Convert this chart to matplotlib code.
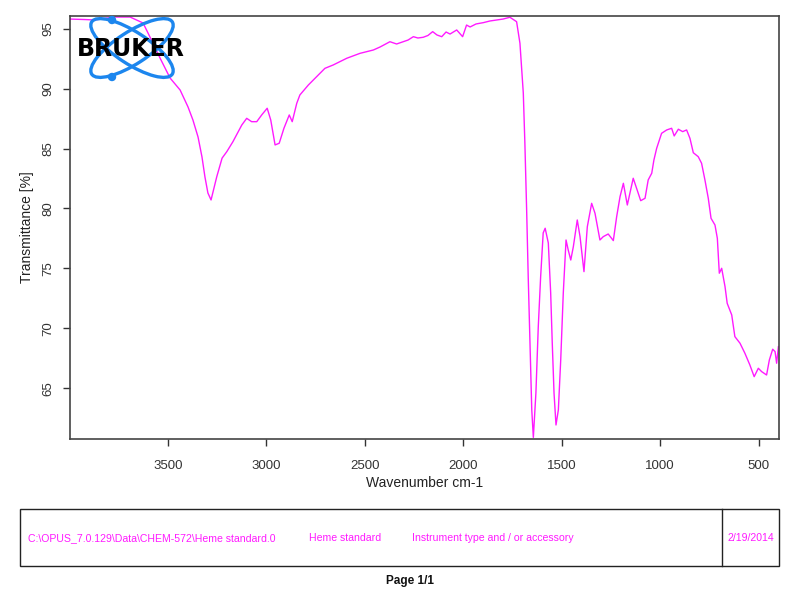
import numpy as np
import matplotlib
matplotlib.use("Agg")
from matplotlib import pyplot as plt
from matplotlib.patches import Ellipse, Circle, Rectangle

plt.rcParams['font.family'] = ['Liberation Sans', 'DejaVu Sans']

# spectrum (wavenumber cm-1, transmittance %)
wavenumber = [3996, 3920, 3869, 3844, 3768, 3691, 3625, 3590, 3539, 3488,
              3437, 3397, 3372, 3346, 3326, 3311, 3296, 3280, 3251, 3224,
              3200, 3169, 3124, 3099, 3074, 3048, 3023, 2995, 2977, 2955,
              2934, 2910, 2883, 2868, 2845, 2829, 2786, 2744, 2702, 2660,
              2591, 2524, 2456, 2422, 2372, 2338, 2304, 2280, 2253, 2230,
              2203, 2179, 2155, 2133, 2109, 2087, 2067, 2033, 2003, 1983,
              1965, 1935, 1898, 1864, 1830, 1798, 1763, 1729, 1712, 1695,
              1687, 1678, 1670, 1661, 1652, 1644, 1631, 1619, 1607, 1594,
              1584, 1568, 1556, 1548, 1539, 1529, 1517, 1505, 1492, 1478,
              1467, 1454, 1441, 1421, 1407, 1387, 1370, 1348, 1331, 1306,
              1289, 1264, 1238, 1221, 1204, 1187, 1167, 1137, 1120, 1099,
              1077, 1061, 1043, 1032, 1018, 993, 967, 942, 929, 908,
              886, 866, 849, 832, 807, 790, 773, 756, 742, 722,
              710, 700, 688, 671, 660, 637, 621, 595, 570, 545,
              523, 502, 485, 460, 446, 429, 417, 409, 400]
transmittance = [95.80, 95.76, 95.72, 95.80, 95.97, 95.97, 95.47, 94.30, 92.55, 90.88,
                 89.88, 88.47, 87.38, 85.96, 84.29, 82.63, 81.29, 80.71, 82.65, 84.20,
                 84.74, 85.57, 86.96, 87.52, 87.24, 87.24, 87.80, 88.36, 87.38, 85.30,
                 85.44, 86.69, 87.80, 87.24, 88.77, 89.47, 90.30, 90.99, 91.69, 91.97,
                 92.53, 92.94, 93.22, 93.47, 93.91, 93.72, 93.91, 94.05, 94.33, 94.22,
                 94.28, 94.43, 94.75, 94.47, 94.33, 94.72, 94.55, 94.89, 94.33, 95.30,
                 95.14, 95.39, 95.50, 95.64, 95.72, 95.80, 95.95, 95.58, 93.78, 89.63,
                 85.46, 79.87, 74.29, 68.78, 63.20, 60.90, 64.61, 70.12, 74.29, 77.96,
                 78.35, 77.12, 72.95, 68.78, 64.61, 61.94, 63.20, 67.37, 72.95, 77.37,
                 76.54, 75.70, 76.81, 79.04, 77.65, 74.73, 78.48, 80.43, 79.60, 77.37,
                 77.65, 77.87, 77.32, 79.32, 80.98, 82.10, 80.29, 82.52, 81.68, 80.65,
                 80.85, 82.38, 82.94, 84.04, 85.02, 86.27, 86.55, 86.69, 86.05, 86.61,
                 86.41, 86.55, 85.85, 84.65, 84.32, 83.77, 82.38, 80.85, 79.18, 78.62,
                 77.51, 74.60, 75.01, 73.48, 72.09, 71.12, 69.31, 68.76, 67.92, 66.95,
                 65.97, 66.67, 66.39, 66.11, 67.36, 68.26, 68.06, 67.09, 68.47]

x_ticks = [3500, 3000, 2500, 2000, 1500, 1000, 500]
y_ticks = [65, 70, 75, 80, 85, 90, 95]

file_path = r"C:\OPUS_7.0.129\Data\CHEM-572\Heme standard.0"
sample_name = "Heme standard"
instrument = "Instrument type and / or accessory"
date = "2/19/2014"

W, H = 800, 589
fig = plt.figure(figsize=(W / 100, H / 100), dpi=100)
ax = fig.add_axes([70 / W, 1 - 439 / H, 709 / W, (439 - 15.7) / H])

magenta = '#ff1aff'
ax.plot(wavenumber, transmittance, color=magenta, lw=1.0)
ax.set_xlim(3996, 397)
ax.set_ylim(60.77, 96.08)
ax.set_xticks(x_ticks)
ax.set_yticks(y_ticks)
ax.tick_params(direction='out', length=5, width=1, colors='#333333', labelsize=9.5)
ax.tick_params(axis='x', pad=10)
ax.tick_params(axis='y', pad=6)
for lbl in ax.get_yticklabels():
    lbl.set_rotation(90)
    lbl.set_va('center')
for s in ax.spines.values():
    s.set_color('#444444')
    s.set_linewidth(1.2)
ax.set_xlabel('Wavenumber cm-1', fontsize=10, color='#222222', labelpad=3)
ax.set_ylabel('Transmittance [%]', fontsize=10, color='#222222', labelpad=6)

# overlay in pixel units for logo and footer
ov = fig.add_axes([0, 0, 1, 1], facecolor='none')
ov.set_xlim(0, W)
ov.set_ylim(H, 0)
ov.axis('off')

blue = '#1c86ee'
for ang in (33, -33):
    ov.add_patch(Ellipse((132, 48), 96, 32, angle=ang, fill=False, ec=blue, lw=2.4))
for cy in (20, 77):
    ov.add_patch(Circle((112, cy), 3.5, color=blue))
ov.text(131, 49, 'BRUKER', ha='center', va='center', fontsize=17,
        fontweight='bold', family='DejaVu Sans', color='black')

ov.add_patch(Rectangle((20, 509), 759, 57, fill=False, ec='#222222', lw=1.0))
ov.plot([722, 722], [509, 566], color='#222222', lw=1.0)
fs = 7.6
ov.text(28, 538, file_path, color=magenta, fontsize=fs, va='center')
ov.text(309, 538, sample_name, color=magenta, fontsize=fs, va='center')
ov.text(412, 538, instrument, color=magenta, fontsize=fs, va='center')
ov.text(727, 538, date, color=magenta, fontsize=fs, va='center')
ov.text(410, 581, 'Page 1/1', fontsize=8.5, fontweight='bold', ha='center', va='center',
        color='#111111')

fig.savefig('out.png', dpi=100)
